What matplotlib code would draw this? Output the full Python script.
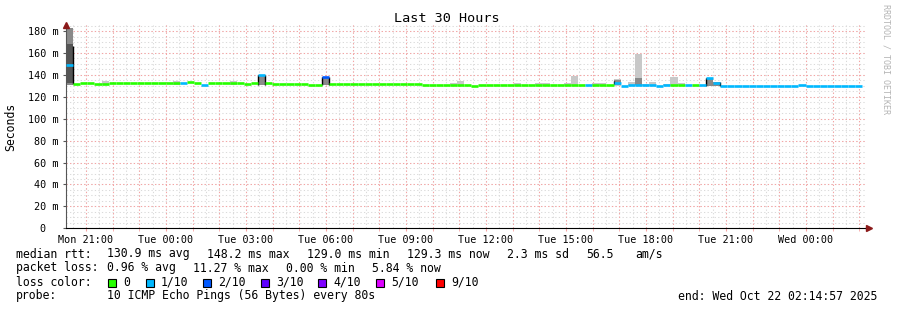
import numpy as np
import matplotlib
matplotlib.use("Agg")
import matplotlib.pyplot as plt
from matplotlib.patches import Rectangle

W, H = 897, 310
MONO = "DejaVu Sans Mono"

# time axis: hours since Mon 00:00, 16 minute bins
t_start = 20 + 14 / 60 + 57 / 3600
t_end = t_start + 30
bin_w = 16 / 60

# median rtt (ms) and loss level per run of bins
run_len = [1, 1, 2, 2, 10, 1, 1, 1, 1, 5, 1, 1, 1, 1, 1, 4, 2, 1, 1, 1, 10, 1,
           7, 1, 15, 1, 3, 1, 1, 4, 1, 1, 2, 1, 1, 1, 1, 1, 1, 10, 1, 8]
run_median = [149.4, 131.5, 132.5, 131.5, 132.3, 132.3, 133.5, 133.0, 131.0, 132.3,
              131.5, 132.3, 139.5, 132.5, 132.0, 131.5, 130.6, 138.5, 132.0, 131.5,
              132.0, 131.3, 130.7, 130.2, 130.7, 130.7, 130.6, 132.5, 129.8, 130.7,
              130.2, 130.7, 130.5, 130.7, 130.7, 131.0, 137.5, 133.0, 130.0, 129.5,
              130.3, 129.5]
run_loss = [1, 0, 0, 0, 0, 1, 0, 0, 1, 0, 0, 0, 1, 0, 0, 0, 0, 2, 0, 0, 0, 0,
            0, 0, 0, 1, 0, 1, 1, 1, 1, 1, 0, 1, 0, 1, 1, 1, 1, 1, 1, 1]

# smoke: (bin, low ms, high ms, density 1..3)
smoke_bin = [0, 0, 5, 15, 23, 27, 36, 54, 55, 63, 66, 67, 70, 71, 74, 75, 77, 77,
             79, 80, 80, 81, 82, 84, 85, 86, 90, 91]
smoke_lo = [131.0, 133.0, 131.0, 131.0, 131.0, 131.0, 130.5, 130.0, 130.0, 130.0,
            130.0, 130.0, 130.0, 130.0, 130.0, 130.0, 130.0, 131.0, 130.0, 130.0,
            130.5, 129.5, 129.5, 129.5, 129.5, 129.5, 130.0, 129.5]
smoke_hi = [183.0, 168.5, 134.5, 134.0, 134.0, 140.0, 138.5, 133.0, 134.3, 132.5,
            133.0, 133.0, 132.5, 139.0, 133.0, 132.3, 136.5, 135.5, 133.6, 158.8,
            137.5, 131.8, 133.7, 131.5, 137.6, 133.0, 137.5, 133.5]
smoke_level = [2, 3, 1, 1, 1, 2, 2, 1, 1, 1, 1, 1, 1, 1, 1, 1, 1, 2, 1, 1, 2, 1, 1,
               1, 1, 1, 2, 2]

# black edges at bin boundaries: (boundary index, low, high)
edge_at = [1, 27, 28, 36, 37, 77, 90, 92]
edge_lo = [131.5, 131.0, 131.0, 131.0, 131.0, 132.0, 130.0, 130.0]
edge_hi = [166.0, 139.5, 139.5, 138.5, 138.5, 134.5, 137.5, 133.5]

loss_labels = ["0", "1/10", "2/10", "3/10", "4/10", "5/10", "9/10"]
loss_colors = ["#26ff00", "#00b8ff", "#0059ff", "#5e00ff", "#7e00ff", "#dd00ff", "#ff0000"]
smoke_colors = {1: "#c8c8c8", 2: "#8a8a8a", 3: "#555555"}

tick_hours = [21, 24, 27, 30, 33, 36, 39, 42, 45, 48]
days = ["Mon", "Tue", "Wed"]

median = np.repeat(run_median, run_len)
loss = np.repeat(run_loss, run_len)
left = t_start + np.arange(len(median)) * bin_w

fig = plt.figure(figsize=(W / 100, H / 100), dpi=100)
fig.patch.set_facecolor("white")
ax_top, ax_bot = 25, 228.3
ax = fig.add_axes([66 / W, (H - ax_bot) / H, 800 / W, (ax_bot - ax_top) / H])
ymax = 185.5
ax.set_xlim(t_start, t_end)
ax.set_ylim(0, ymax)

# grid
dots = dict(linewidth=0.75, linestyles=(0, (1.2, 2.2)), zorder=0)
ax.vlines(np.arange(20.5, t_end, 0.5), 0, ymax, colors="#dadada", **dots)
ax.hlines(np.arange(5, ymax, 5), t_start, t_end, colors="#dadada", **dots)
ax.vlines(np.arange(21, t_end, 1.0), 0, ymax, colors="#f7a3a3", **dots)
ax.hlines(np.arange(20, ymax, 20), t_start, t_end, colors="#f7a3a3", **dots)

# smoke
for b, lo, hi, lv in zip(smoke_bin, smoke_lo, smoke_hi, smoke_level):
    ax.bar(left[b], hi - lo, width=bin_w, bottom=lo, align="edge",
           color=smoke_colors[lv], linewidth=0, zorder=2)
for e, lo, hi in zip(edge_at, edge_lo, edge_hi):
    ax.vlines(t_start + e * bin_w, lo, hi, colors="black", linewidth=1.0, zorder=3)

# median line coloured by loss
ax.hlines(median, left, left + bin_w, colors=[loss_colors[l] for l in loss],
          linewidth=1.9, zorder=4)

# axes styling
for s in ["top", "right"]:
    ax.spines[s].set_visible(False)
ax.spines["left"].set_color("#555555")
ax.spines["bottom"].set_color("black")
ax.set_xticks(tick_hours)
ax.set_xticklabels([f"{days[h // 24]} {h % 24:02d}:00" for h in tick_hours],
                   fontfamily=MONO, fontsize=7.3)
ax.set_xticks(np.arange(21, t_end, 1.0), minor=True)
ax.tick_params(axis="x", which="both", length=2, color="#f7a3a3", pad=2.5)
yt = np.arange(0, 181, 20)
ax.set_yticks(yt)
ax.set_yticklabels([f"{v} m" if v else "0  " for v in yt], fontfamily=MONO, fontsize=7.3)
ax.tick_params(axis="y", length=2, color="#555555", pad=3.5)
ax.plot([0], [1.0], marker="^", color="#8b1a1a", markersize=4, transform=ax.transAxes,
        clip_on=False, zorder=5)
ax.plot([1.004], [0], marker=">", color="#8b1a1a", markersize=4, transform=ax.transAxes,
        clip_on=False, zorder=5)
ax.plot([1.0, 1.004], [0, 0], color="black", linewidth=1, transform=ax.transAxes,
        clip_on=False)


def ftext(x, y, s, **kw):
    kw.setdefault("fontsize", 8.3)
    kw.setdefault("fontfamily", MONO)
    fig.text(x / W, 1 - y / H, s, va="center", **kw)


ftext(447, 19, "Last 30 Hours", ha="center", fontsize=9.7)
ftext(11, 127, "Seconds", ha="center", rotation=90)
fig.text(886 / W, 1 - 4 / H, "RRDTOOL / TOBI OETIKER", rotation=270, va="top",
         ha="center", fontsize=6, fontfamily=MONO, color="#b4b4b4")

ftext(16, 254, "median rtt:")
for x, s in zip([107, 207, 307, 407, 507, 586, 635],
                ["130.9 ms avg", "148.2 ms max", "129.0 ms min", "129.3 ms now",
                 "2.3 ms sd", "56.5", "am/s"]):
    ftext(x, 254, s)
ftext(16, 268, "packet loss:")
for x, s in zip([107, 193, 286, 372],
                ["0.96 % avg", "11.27 % max", "0.00 % min", "5.84 % now"]):
    ftext(x, 268, s)
ftext(16, 282, "loss color:")
for x, lab, col in zip([108, 146, 203, 261, 318, 376, 436], loss_labels, loss_colors):
    fig.add_artist(Rectangle((x / W, 1 - 286.5 / H), 7.5 / W, 7.5 / H,
                             transform=fig.transFigure, facecolor=col,
                             edgecolor="black", linewidth=0.8))
    ftext(x + 15, 282, lab)
ftext(16, 296, "probe:")
ftext(107, 296, "10 ICMP Echo Pings (56 Bytes) every 80s")
ftext(678, 296, "end: Wed Oct 22 02:14:57 2025")

fig.savefig("out.png", dpi=100, facecolor="white")
